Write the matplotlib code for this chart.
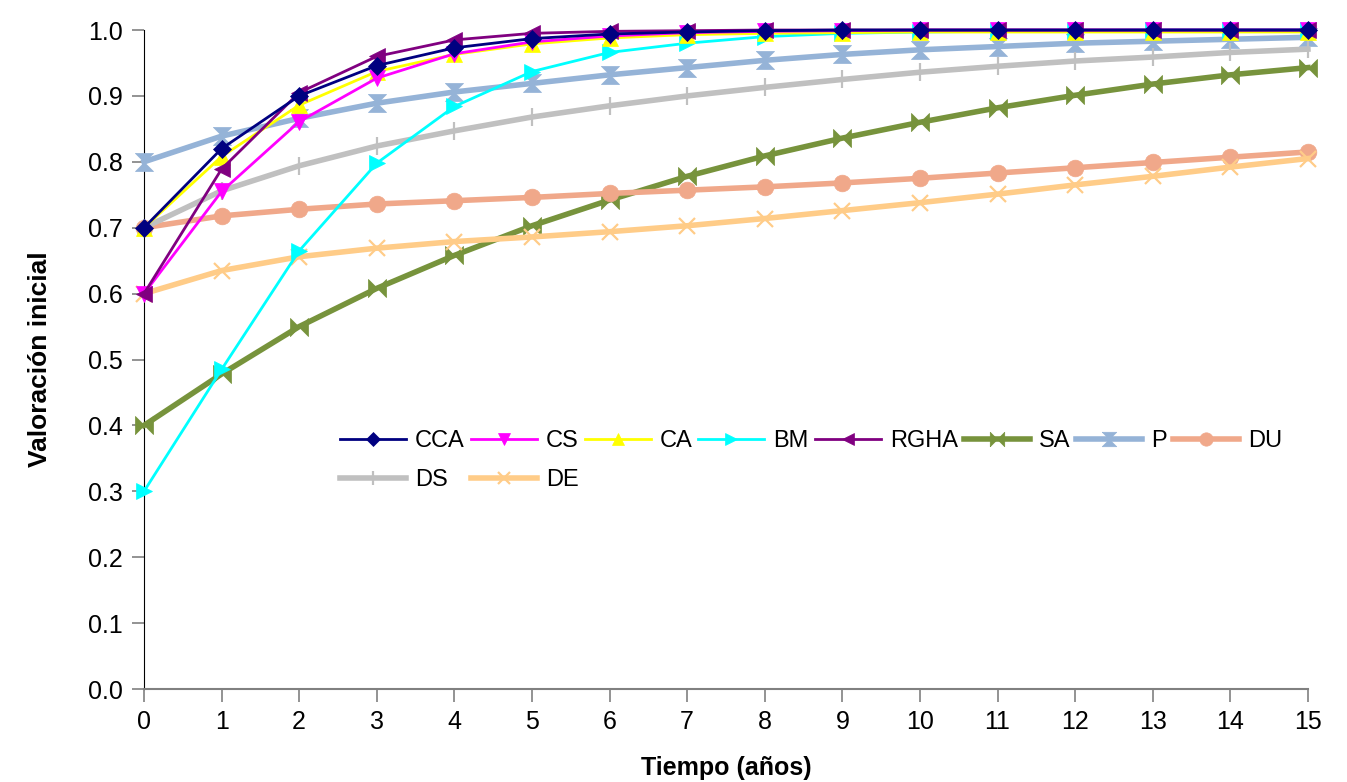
import numpy as np
import matplotlib
matplotlib.use("Agg")
import matplotlib.pyplot as plt

plt.rcParams["font.family"] = ["Liberation Sans", "DejaVu Sans"]

years = list(range(16))
CCA = [0.70, 0.82, 0.90, 0.946, 0.973, 0.987, 0.994, 0.997, 0.999, 1.0, 1.0, 1.0, 1.0, 1.0, 1.0, 1.0]
CS = [0.60, 0.755, 0.861, 0.927, 0.964, 0.982, 0.991, 0.996, 0.998, 0.999, 1.0, 1.0, 1.0, 1.0, 1.0, 1.0]
CA = [0.70, 0.808, 0.886, 0.937, 0.963, 0.979, 0.988, 0.993, 0.995, 0.996, 0.997, 0.997, 0.997, 0.997, 0.997, 0.997]
BM = [0.30, 0.485, 0.665, 0.798, 0.884, 0.937, 0.966, 0.980, 0.990, 0.995, 0.997, 0.998, 0.999, 1.0, 1.0, 1.0]
RGHA = [0.60, 0.789, 0.905, 0.960, 0.985, 0.995, 0.998, 0.999, 1.0, 1.0, 1.0, 1.0, 1.0, 1.0, 1.0, 1.0]
SA = [0.40, 0.478, 0.550, 0.608, 0.658, 0.703, 0.742, 0.778, 0.809, 0.836, 0.860, 0.882, 0.901, 0.918, 0.932, 0.943]
P = [0.80, 0.839, 0.866, 0.889, 0.906, 0.919, 0.932, 0.943, 0.954, 0.963, 0.970, 0.975, 0.980, 0.983, 0.986, 0.989]
DU = [0.70, 0.718, 0.728, 0.736, 0.741, 0.746, 0.752, 0.757, 0.762, 0.768, 0.775, 0.783, 0.791, 0.799, 0.807, 0.815]
DS = [0.70, 0.756, 0.794, 0.824, 0.847, 0.868, 0.885, 0.900, 0.913, 0.925, 0.936, 0.945, 0.953, 0.959, 0.966, 0.971]
DE = [0.60, 0.635, 0.656, 0.669, 0.679, 0.686, 0.694, 0.703, 0.714, 0.726, 0.738, 0.751, 0.765, 0.778, 0.792, 0.805]

# custom markers: horizontal bowtie (SA) and vertical hourglass (P)
BOWTIE = [(-1, -1), (-1, 1), (1, -1), (1, 1), (-1, -1)]
HOURGLASS = [(-1, 1), (1, 1), (-1, -1), (1, -1), (-1, 1)]

# name, data, color, marker, markersize, linewidth, zorder
series = [
    ("SA", SA, "#77933C", BOWTIE, 13, 4.0, 3),
    ("P", P, "#95B3D7", HOURGLASS, 13, 4.0, 3),
    ("DU", DU, "#F0A88A", "o", 12, 4.0, 3),
    ("DS", DS, "#C0C0C0", "|", 13, 4.0, 3),
    ("DE", DE, "#FFCC88", "x", 11, 4.0, 3),
    ("BM", BM, "#00FFFF", ">", 11, 2.0, 4),
    ("CA", CA, "#FFFF00", "^", 11, 2.0, 4),
    ("CS", CS, "#FF00FF", "v", 11, 2.0, 4),
    ("RGHA", RGHA, "#800080", "<", 11, 2.0, 4),
    ("CCA", CCA, "#000080", "D", 9.5, 2.0, 5),
]

fig = plt.figure(figsize=(13.47, 7.82), dpi=100)
ax = fig.add_axes([0.1069, 0.1189, 0.8641, 0.8427])

handles = {}
for name, vals, col, mk, ms, lw, z in series:
    mew = 1.6 if mk in ("x", "|") else 0.5
    h, = ax.plot(years, vals, color=col, marker=mk, markersize=ms, linewidth=lw,
                 markerfacecolor=col, markeredgecolor=col, markeredgewidth=mew,
                 zorder=z, clip_on=False, label=name)
    handles[name] = h

ax.set_xlim(0, 15)
ax.set_ylim(0, 1.0)
ax.set_xticks(range(16))
ax.set_yticks(np.arange(0, 1.01, 0.1))
ax.set_yticklabels([f"{v:.1f}" for v in np.arange(0, 1.01, 0.1)])
ax.tick_params(axis="both", direction="out", length=9, width=1.2, color="#808080",
               labelsize=18, pad=6)
ax.spines[["top", "right"]].set_visible(False)
ax.spines["left"].set_color("black")
ax.spines["bottom"].set_color("#808080")
ax.spines["bottom"].set_linewidth(1.5)

ax.set_xlabel("Tiempo (años)", fontsize=18, fontweight="bold", labelpad=16)
ax.set_ylabel("Valoración inicial", fontsize=19, fontweight="bold", labelpad=26)

# legend order so columns fill as two rows: CCA CS CA BM RGHA SA P DU / DS DE
order = ["CCA", "DS", "CS", "DE", "CA", "BM", "RGHA", "SA", "P", "DU"]
fig.legend([handles[n] for n in order], order, loc="upper left",
           bbox_to_anchor=(0.2525, 0.4495), ncol=8, frameon=False, fontsize=17,
           handlelength=2.8, handletextpad=0.38, columnspacing=0.25,
           labelspacing=0.7, borderpad=0, borderaxespad=0, markerscale=0.8)

fig.savefig("out.png", dpi=100)
